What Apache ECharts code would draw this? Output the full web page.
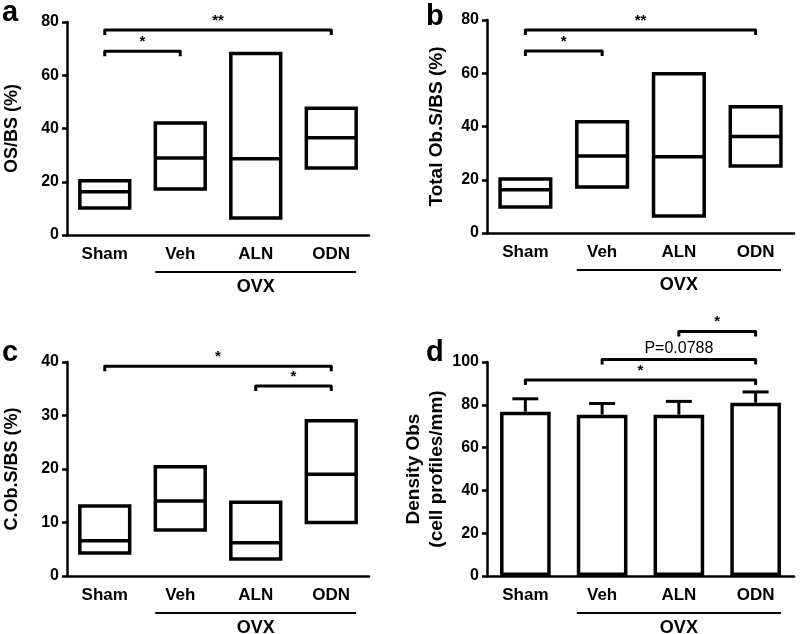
<!DOCTYPE html>
<html><head><meta charset="utf-8">
<script src="https://cdn.jsdelivr.net/npm/echarts@6/dist/echarts.min.js"></script>
<style>html,body{margin:0;padding:0;background:#fff}#c{width:800px;height:634px}</style>
</head><body><div id="c"></div>
<script>
const categories = ['Sham', 'Veh', 'ALN', 'ODN'];
const groupLabel = 'OVX';
const groupSpan = [1, 3];
// panel a: OS/BS (%) [low, median, high]
const aLow = [10.1, 17.3, 6.4, 25.2];
const aMed = [16.2, 28.9, 28.6, 36.5];
const aHigh = [20.4, 42.1, 68.2, 47.6];
const aBrackets = [[0, 1, 69, '*'], [0, 3, 77, '**']];
// panel b: Total Ob.S/BS (%)
const bLow = [9.8, 17.3, 6.4, 25.2];
const bMed = [16.2, 28.9, 28.6, 36.2];
const bHigh = [20.3, 41.8, 59.8, 47.4];
const bBrackets = [[0, 1, 68.4, '*'], [0, 3, 76.2, '**']];
// panel c: C.Ob.S/BS (%)
const cLow = [4.3, 8.6, 3.2, 10.0];
const cMed = [6.6, 14.0, 6.2, 19.0];
const cHigh = [13.1, 20.4, 13.8, 29.0];
const cBrackets = [[0, 3, 39.2, '*'], [2, 3, 35.5, '*']];
// panel d: Density Obs (cell profiles/mm), mean and upper SD
const dMean = [76.8, 75.4, 75.4, 81.0];
const dErr = [82.8, 80.6, 81.6, 86.0];
const dBrackets = [[0, 3, 91.6, '*'], [1, 3, 101.2, 'P=0.0788'], [2, 3, 114.2, '*']];

const FONT = 'Liberation Sans, Arial, sans-serif';
const BLACK = '#000';

const grids = [
  {left: 62, top: 22, width: 307, height: 213},
  {left: 487, top: 20, width: 307, height: 213},
  {left: 62, top: 362, width: 307, height: 214},
  {left: 487, top: 362, width: 307, height: 214}
];
const yDefs = [
  {max: 80, interval: 20, name: 'OS/BS (%)', gap: 43, size: 18},
  {max: 80, interval: 20, name: 'Total Ob.S/BS (%)', gap: 39, size: 19},
  {max: 40, interval: 10, name: 'C.Ob.S/BS (%)', gap: 43, size: 18},
  {max: 100, interval: 20, name: 'Density Obs\n(cell profiles/mm)', gap: 38, size: 19}
];

const xAxes = grids.map((g, i) => ({
  type: 'category', gridIndex: i, data: categories,
  axisLine: {lineStyle: {color: BLACK, width: 2.5}},
  axisTick: {alignWithLabel: true, length: 6, lineStyle: {color: BLACK, width: 2.5}},
  axisLabel: {color: BLACK, fontFamily: FONT, fontWeight: 'bold', fontSize: 17, margin: 11}
}));
const yAxes = yDefs.map((d, i) => ({
  type: 'value', gridIndex: i, min: 0, max: d.max, interval: d.interval,
  name: d.name, nameLocation: 'middle', nameRotate: 90, nameGap: d.gap,
  nameTextStyle: {color: BLACK, fontFamily: FONT, fontWeight: 'bold', fontSize: d.size, lineHeight: 23},
  axisLine: {show: true, lineStyle: {color: BLACK, width: 2.5}},
  axisTick: {show: true, length: 5, lineStyle: {color: BLACK, width: 2.5}},
  splitLine: {show: false},
  axisLabel: {color: BLACK, fontFamily: FONT, fontWeight: 'bold', fontSize: 16, margin: 8}
}));

function boxSeries(idx, low, med, high) {
  return {
    type: 'custom', xAxisIndex: idx, yAxisIndex: idx,
    data: categories.map((c, i) => [i, low[i], med[i], high[i]]),
    renderItem: function (params, api) {
      const x = api.value(0);
      const pl = api.coord([x, api.value(1)]);
      const pm = api.coord([x, api.value(2)]);
      const ph = api.coord([x, api.value(3)]);
      const w = api.size([1, 0])[0] * 0.66;
      return {type: 'group', children: [
        {type: 'rect', shape: {x: pl[0] - w / 2, y: ph[1], width: w, height: pl[1] - ph[1]},
         style: {fill: '#fff', stroke: BLACK, lineWidth: 3.5}},
        {type: 'line', shape: {x1: pm[0] - w / 2, y1: pm[1], x2: pm[0] + w / 2, y2: pm[1]},
         style: {stroke: BLACK, lineWidth: 3.5}}
      ]};
    }
  };
}

function bracketSeries(idx, brackets) {
  return {
    type: 'custom', xAxisIndex: idx, yAxisIndex: idx, clip: false, z: 5,
    data: brackets.map(b => [b[0], b[1], b[2], b[3]]),
    renderItem: function (params, api) {
      const p1 = api.coord([api.value(0), api.value(2)]);
      const p2 = api.coord([api.value(1), api.value(2)]);
      const label = brackets[params.dataIndex][3];
      const isStar = label.indexOf('*') === 0;
      return {type: 'group', children: [
        {type: 'polyline', shape: {points: [[p1[0], p1[1] + 5], [p1[0], p1[1]], [p2[0], p2[1]], [p2[0], p2[1] + 5]]},
         style: {stroke: BLACK, lineWidth: 3, fill: null, lineJoin: 'round'}},
        {type: 'text', x: (p1[0] + p2[0]) / 2, y: p1[1] - (isStar ? 2 : 3),
         style: {text: label, fill: BLACK, font: (isStar ? 'bold 15px ' : '16px ') + FONT,
                 align: 'center', verticalAlign: 'bottom'}}
      ]};
    }
  };
}

function groupSeries(idx) {
  return {
    type: 'custom', xAxisIndex: idx, yAxisIndex: idx, clip: false, silent: true,
    data: [[groupSpan[0], groupSpan[1]]],
    renderItem: function (params, api) {
      const p1 = api.coord([api.value(0), 0]);
      const p2 = api.coord([api.value(1), 0]);
      const hw = api.size([1, 0])[0] * 0.33;
      const y = p1[1] + 37;
      return {type: 'group', children: [
        {type: 'line', shape: {x1: p1[0] - hw, y1: y, x2: p2[0] + hw, y2: y}, style: {stroke: BLACK, lineWidth: 2.2}},
        {type: 'text', x: (p1[0] + p2[0]) / 2, y: y + 6,
         style: {text: groupLabel, fill: BLACK, font: 'bold 18px ' + FONT, align: 'center', verticalAlign: 'top'}}
      ]};
    }
  };
}

const series = [
  boxSeries(0, aLow, aMed, aHigh), bracketSeries(0, aBrackets), groupSeries(0),
  boxSeries(1, bLow, bMed, bHigh), bracketSeries(1, bBrackets), groupSeries(1),
  boxSeries(2, cLow, cMed, cHigh), bracketSeries(2, cBrackets), groupSeries(2),
  {
    type: 'bar', xAxisIndex: 3, yAxisIndex: 3, data: dMean, barWidth: '66%', z: 2,
    itemStyle: {color: '#fff', borderColor: BLACK, borderWidth: 3.5}
  },
  {
    type: 'custom', xAxisIndex: 3, yAxisIndex: 3, z: 3,
    data: categories.map((c, i) => [i, dMean[i], dErr[i]]),
    renderItem: function (params, api) {
      const pb = api.coord([api.value(0), api.value(1)]);
      const pt = api.coord([api.value(0), api.value(2)]);
      return {type: 'group', children: [
        {type: 'line', shape: {x1: pb[0], y1: pb[1], x2: pt[0], y2: pt[1]}, style: {stroke: BLACK, lineWidth: 3}},
        {type: 'line', shape: {x1: pt[0] - 13, y1: pt[1], x2: pt[0] + 13, y2: pt[1]}, style: {stroke: BLACK, lineWidth: 3}}
      ]};
    }
  },
  bracketSeries(3, dBrackets), groupSeries(3)
];

const panelLetters = [['a', 2, -2], ['b', 426, 2], ['c', 2, 338], ['d', 426, 338]];
const chart = echarts.init(document.getElementById('c'), null, {renderer: 'canvas'});
chart.setOption({
  backgroundColor: '#fff',
  animation: false,
  grid: grids,
  xAxis: xAxes,
  yAxis: yAxes,
  series: series,
  graphic: panelLetters.map(p => ({
    type: 'text', left: p[1], top: p[2],
    style: {text: p[0], fill: BLACK, font: 'bold 29px ' + FONT}
  }))
});
</script></body></html>
